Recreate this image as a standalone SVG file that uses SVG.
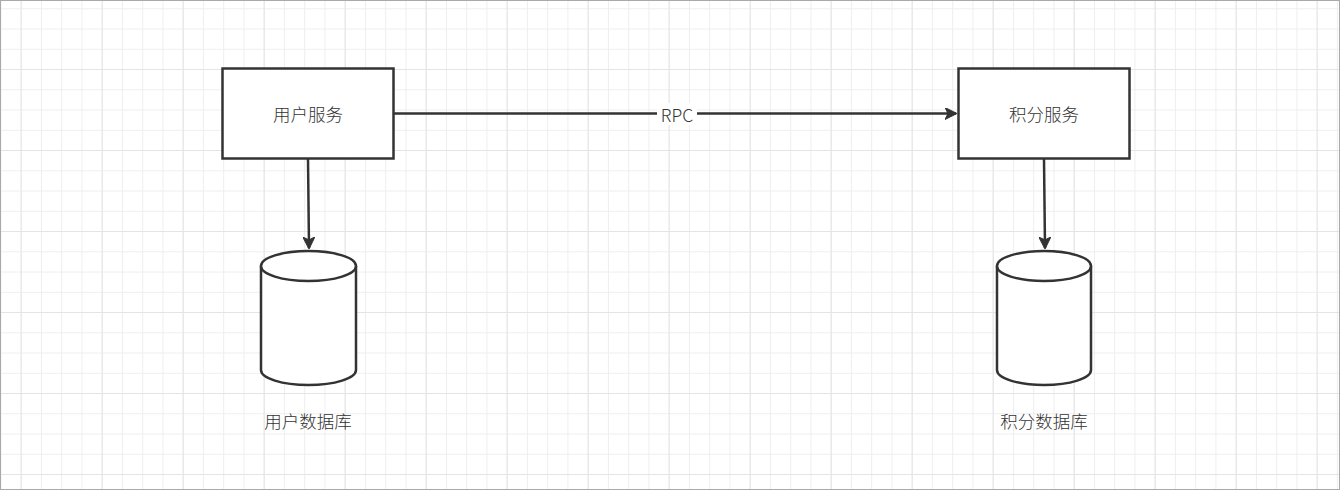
<svg xmlns="http://www.w3.org/2000/svg" width="1340" height="490" viewBox="0 0 1340 490">
<defs>
<pattern id="minor" x="0.45" y="8.3" width="20.25" height="20.25" patternUnits="userSpaceOnUse">
<path d="M0.5 0V20.25M0 0.5H20.25" fill="none" stroke="#eeeeee" stroke-width="1"/>
</pattern>
<pattern id="major" x="20.7" y="69" width="81" height="81" patternUnits="userSpaceOnUse">
<path d="M0.5 0V81M0 0.5H81" fill="none" stroke="#e4e4e4" stroke-width="1"/>
</pattern>
<marker id="arr" markerWidth="12" markerHeight="12" viewBox="0 0 12 12" refX="11" refY="6" orient="auto" markerUnits="userSpaceOnUse">
<path d="M0 0L12 6L0 12L3 6Z" fill="#333333" stroke="#333333" stroke-width="1"/>
</marker>
</defs>
<style>
.box{fill:#ffffff;stroke:#333333;stroke-width:2.5}
.cyl{fill:#ffffff;stroke:#333333;stroke-width:2.5}
.edge{fill:none;stroke:#333333;stroke-width:2.5}
text{font-family:"Noto Sans CJK SC","Noto Sans",sans-serif;font-size:17.5px;font-weight:300;fill:#333333;text-anchor:middle;dominant-baseline:central}
</style>
<rect x="0" y="0" width="1340" height="490" fill="#ffffff"/>
<rect x="0" y="0" width="1340" height="490" fill="url(#minor)"/>
<rect x="0" y="0" width="1340" height="490" fill="url(#major)"/>
<rect x="0.5" y="0.5" width="1339" height="489" fill="none" stroke="#a9a9a9" stroke-width="1"/>
<g id="connectors">
<path class="edge" d="M394 113.5H956" marker-end="url(#arr)"/>
<rect x="657" y="103" width="40" height="22" fill="#ffffff"/>
<text x="677" y="114">RPC</text>
<path class="edge" d="M308 159L309 248" marker-end="url(#arr)"/>
<path class="edge" d="M1044 159L1045 248" marker-end="url(#arr)"/>
</g>
<g id="user-service">
<rect class="box" x="222.5" y="68.5" width="171" height="90"/>
<text x="308" y="113">用户服务</text>
</g>
<g id="points-service">
<rect class="box" x="958.5" y="68.5" width="171" height="90"/>
<text x="1044" y="113">积分服务</text>
</g>
<g id="user-db">
<path class="cyl" d="M261 266A47.5 15 0 0 1 356 266V370A47.5 15 0 0 1 261 370Z"/>
<path class="cyl" d="M261 266A47.5 15 0 0 0 356 266"/>
<text x="308" y="420">用户数据库</text>
</g>
<g id="points-db">
<path class="cyl" d="M997 266A47 15 0 0 1 1091 266V370A47 15 0 0 1 997 370Z"/>
<path class="cyl" d="M997 266A47 15 0 0 0 1091 266"/>
<text x="1044" y="420">积分数据库</text>
</g>
</svg>
